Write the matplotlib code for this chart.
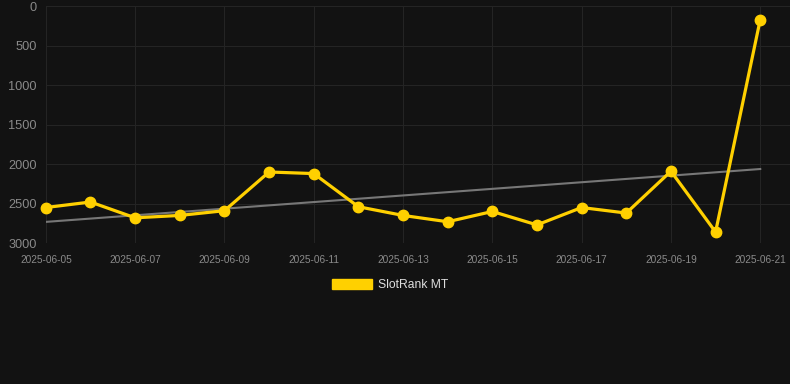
import numpy as np
import pandas as pd
import matplotlib
matplotlib.use("Agg")
import matplotlib.pyplot as plt
from matplotlib.patches import Patch

# daily rank values (lower is better, axis inverted)
dates = pd.date_range("2025-06-05", "2025-06-21", freq="D")
ranks = [2550, 2480, 2680, 2650, 2590, 2100, 2120, 2540, 2650,
         2730, 2600, 2770, 2550, 2620, 2090, 2860, 170]
yticks = [0, 500, 1000, 1500, 2000, 2500, 3000]
series_name = "SlotRank MT"

bg = "#121212"
yellow = "#ffd000"

plt.rcParams['font.family'] = ['Liberation Sans', 'DejaVu Sans']

fig = plt.figure(figsize=(7.9, 3.84), dpi=100, facecolor=bg)
ax = fig.add_axes([0.058, 0.367, 0.942, 0.617], facecolor=bg)

# linear trend over the series
x = np.arange(len(ranks))
k, b = np.polyfit(x, ranks, 1)
ax.plot(dates, k * x + b, color="#777777", lw=1.5, zorder=2)

ax.plot(dates, ranks, color=yellow, lw=2.3, marker="o", ms=7.5,
        markerfacecolor=yellow, markeredgecolor=yellow, zorder=3, clip_on=False)

ax.set_ylim(3000, 0)
ax.set_yticks(yticks)
ax.set_xlim(dates[0], dates[-1] + pd.Timedelta(hours=16))
ax.set_xticks(dates[::2])
ax.set_xticklabels([d.strftime("%Y-%m-%d") for d in dates[::2]])

ax.grid(True, color="#242424", lw=0.8)
ax.set_axisbelow(True)
for s in ax.spines.values():
    s.set_visible(False)
ax.tick_params(axis="y", length=0, pad=6.5, labelsize=9.2, labelcolor="#8a8a8a")
ax.tick_params(axis="x", length=0, pad=8.5, labelsize=7.3, labelcolor="#8a8a8a")

fig.legend(handles=[Patch(facecolor=yellow, edgecolor=yellow, label=series_name)],
           loc="center", bbox_to_anchor=(0.494, 0.258), frameon=False,
           handlelength=3.3, handleheight=1.0, handletextpad=0.45,
           fontsize=8.7, labelcolor="#dddddd")

fig.savefig("out.png", facecolor=bg)
